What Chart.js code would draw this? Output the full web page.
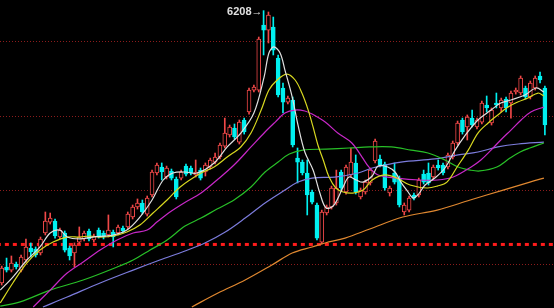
<!DOCTYPE html>
<html>
<head>
<meta charset="utf-8">
<script src="https://cdn.jsdelivr.net/npm/chart.js@4.4.0/dist/chart.umd.min.js"></script>
<style>
  html, body { margin: 0; padding: 0; background: #000; }
  canvas { display: block; }
</style>
</head>
<body>
<canvas id="kline" width="554" height="308"></canvas>
<script>
// daily candles
const openP = [4370, 4478, 4457, 4498, 4457, 4525, 4606, 4599, 4572, 4707,
  4781, 4788, 4680, 4707, 4606, 4572, 4646, 4667, 4721, 4660,
  4727, 4707, 4694, 4714, 4707, 4741, 4748, 4815, 4883, 4910,
  4835, 4964, 5112, 5153, 5085, 5126, 5072, 5078, 5159, 5146,
  5099, 5132, 5119, 5153, 5186, 5220, 5294, 5369, 5416, 5321,
  5470, 5524, 5672, 5672, 6111, 6077, 6098, 5888, 5686, 5591,
  5605, 5213, 5186, 5112, 4984, 4896, 4646, 4842, 4883, 4910,
  5119, 4984, 5099, 5180, 4950, 4984, 5045, 5193, 5207, 5173,
  4977, 5112, 5078, 4849, 4862, 4964, 4964, 5105, 5112, 5085,
  5166, 5166, 5153, 5220, 5315, 5470, 5423, 5483, 5423, 5456,
  5571, 5450, 5585, 5551, 5612, 5585, 5659, 5652, 5686, 5625,
  5686, 5767, 5686];
const highP = [4484, 4538, 4552, 4511, 4559, 4667, 4640, 4613, 4680, 4849,
  4842, 4802, 4741, 4721, 4619, 4640, 4748, 4721, 4734, 4700,
  4741, 4721, 4829, 4727, 4761, 4754, 4849, 4896, 4937, 4930,
  4957, 5132, 5180, 5180, 5159, 5139, 5085, 5132, 5173, 5159,
  5200, 5146, 5180, 5213, 5247, 5315, 5483, 5436, 5443, 5470,
  5483, 5686, 5706, 6030, 6208, 6199, 6165, 5909, 5720, 5632,
  5625, 5281, 5200, 5200, 4997, 4910, 4862, 4896, 5024, 5132,
  5132, 5166, 5281, 5234, 5011, 5065, 5146, 5342, 5234, 5186,
  5024, 5180, 5092, 4910, 4957, 4977, 5078, 5132, 5180, 5166,
  5200, 5180, 5247, 5328, 5463, 5483, 5504, 5537, 5483, 5598,
  5632, 5551, 5652, 5618, 5625, 5666, 5686, 5767, 5699, 5733,
  5767, 5794, 5699];
const lowP = [4356, 4444, 4444, 4464, 4444, 4511, 4545, 4545, 4559, 4694,
  4768, 4673, 4667, 4579, 4525, 4478, 4633, 4653, 4653, 4646,
  4673, 4667, 4680, 4613, 4694, 4707, 4734, 4802, 4869, 4835,
  4822, 4950, 5099, 5065, 5072, 5065, 4937, 5065, 5092, 5099,
  5085, 5065, 5092, 5139, 5173, 5207, 5281, 5355, 5342, 5308,
  5375, 5510, 5659, 5659, 5909, 5990, 5909, 5625, 5517, 5578,
  5288, 5045, 5099, 4829, 4903, 4660, 4633, 4829, 4869, 4896,
  4997, 4970, 5085, 4970, 4937, 4970, 5031, 5180, 5153, 4997,
  4957, 5038, 4883, 4829, 4849, 4930, 4950, 5038, 5031, 5072,
  5132, 5099, 5139, 5207, 5301, 5375, 5335, 5423, 5409, 5443,
  5524, 5436, 5551, 5524, 5524, 5483, 5645, 5639, 5612, 5612,
  5672, 5720, 5369];
const closeP = [4471, 4457, 4505, 4478, 4545, 4613, 4579, 4559, 4667, 4788,
  4808, 4687, 4727, 4592, 4552, 4626, 4680, 4707, 4667, 4687,
  4687, 4680, 4727, 4680, 4748, 4721, 4835, 4883, 4910, 4849,
  4943, 5119, 5166, 5119, 5146, 5078, 4950, 5119, 5105, 5112,
  5119, 5078, 5166, 5200, 5220, 5301, 5382, 5423, 5355, 5456,
  5389, 5672, 5693, 6017, 6077, 6179, 5942, 5639, 5591, 5618,
  5301, 5186, 5112, 4964, 4916, 4673, 4849, 4883, 5011, 5011,
  5011, 5153, 5186, 4984, 4997, 5051, 5132, 5328, 5166, 5011,
  5011, 5051, 4896, 4896, 4943, 4943, 5065, 5051, 5045, 5153,
  5146, 5112, 5234, 5315, 5450, 5389, 5490, 5436, 5470, 5585,
  5551, 5537, 5571, 5605, 5551, 5652, 5672, 5753, 5625, 5720,
  5753, 5740, 5436];

// moving average lines, sampled as [bar index, price]
const ma5 = [[-0.3, 4322], [2.3, 4410], [5.2, 4525], [7.9, 4613], [10, 4707], [12, 4727],
  [13.5, 4680], [16.1, 4667], [18.8, 4680], [23, 4694], [25.8, 4727], [28.5, 4815],
  [31, 4930], [33.3, 5065], [35.3, 5112], [37.8, 5119], [40.3, 5112], [43.8, 5180],
  [46.5, 5288], [49.3, 5382], [52, 5517], [54.1, 5760], [55.1, 5922], [56.1, 5963],
  [57.4, 5922], [58.4, 5807], [59.9, 5625], [61.1, 5436], [62.5, 5254], [64.2, 5132],
  [65.6, 4977], [66.9, 4876], [68.5, 4896], [70.4, 5018], [71.6, 5085], [73.1, 5065],
  [74.5, 5051], [76.4, 5092], [77.6, 5159], [79.6, 5153], [81.1, 5119], [82.3, 5051],
  [83.8, 4984], [84.8, 4943], [85.8, 4964], [87.3, 5031], [89.3, 5078], [91.4, 5146],
  [93.5, 5267], [95.3, 5355], [98.2, 5470], [100.9, 5537], [102.9, 5585], [105, 5605],
  [107.9, 5639], [110.2, 5686], [111.8, 5659]];
const ma10 = [[-0.3, 4235], [2.3, 4370], [5.2, 4505], [7.9, 4592], [10.6, 4646], [13.5, 4680],
  [16.1, 4680], [18.2, 4687], [20.3, 4680], [23, 4687], [25.8, 4714], [28.5, 4761],
  [31.2, 4842], [34.1, 4930], [36.8, 5018], [41.1, 5112], [43.8, 5153], [46.5, 5220],
  [49.3, 5288], [51.4, 5382], [53.5, 5537], [55.1, 5672], [56.8, 5740], [58.8, 5780],
  [60.5, 5740], [61.9, 5652], [63.2, 5537], [64.2, 5423], [65.2, 5301], [66.3, 5200],
  [67.5, 5085], [68.9, 5011], [70.4, 4984], [72.4, 4977], [74.5, 4997], [76.4, 5065],
  [79, 5099], [81.5, 5078], [84.2, 5031], [87.7, 5011], [89.8, 5024], [91.8, 5051],
  [93.9, 5153], [96.2, 5267], [98.2, 5382], [100.3, 5450], [102.3, 5504], [104.4, 5558],
  [106.4, 5591], [108.5, 5618], [110.6, 5652], [111.8, 5632]];
const ma20 = [[6.5, 4208], [10, 4322], [13.5, 4437], [16.8, 4511], [20.3, 4592], [23.8, 4660],
  [27.1, 4707], [30, 4727], [32, 4781], [34.7, 4849], [37.6, 4910], [41.1, 4977],
  [44.4, 5065], [47.9, 5166], [51.4, 5288], [54.3, 5389], [56.4, 5456], [58.4, 5517],
  [60.5, 5537], [62.5, 5531], [64, 5510], [66.7, 5456], [69.3, 5382], [72.2, 5315],
  [74.3, 5220], [75.7, 5153], [77.6, 5099], [81.5, 5078], [86.2, 5065], [89.8, 5065],
  [93.1, 5085], [96.8, 5153], [98.8, 5200], [100.9, 5267], [102.9, 5335], [105, 5402],
  [107.1, 5470], [109.1, 5524], [111.8, 5558]];
const ma30 = [[-0.3, 4214], [3.8, 4242], [10, 4322], [16.8, 4390], [23.8, 4478], [27.1, 4525],
  [30.6, 4592], [34.1, 4660], [37.8, 4754], [41.1, 4808], [44.4, 4869], [47.9, 4930],
  [51.4, 5018], [54.3, 5119], [57, 5186], [59.3, 5240], [62.1, 5267], [66.9, 5274],
  [71.6, 5281], [75.9, 5288], [80.3, 5288], [84.4, 5267], [87.9, 5247], [91.4, 5200],
  [94.1, 5153], [96.6, 5132], [98.6, 5126], [102.1, 5153], [104.8, 5213], [106.9, 5254],
  [108.9, 5281], [111.8, 5315]];
const ma60 = [[8.5, 4208], [13.5, 4275], [20.3, 4370], [27.1, 4457], [32.6, 4525], [37.8, 4586],
  [41.9, 4640], [46.1, 4714], [50.2, 4808], [54.3, 4910], [58.4, 4997], [61.1, 5051],
  [64, 5078], [68.7, 5085], [73.5, 5112], [76.4, 5146], [82.3, 5186], [89.3, 5207],
  [94.1, 5234], [98.2, 5254], [102.3, 5288], [106.5, 5308], [111.8, 5321]];
const ma120 = [[39.2, 4208], [44.6, 4302], [50.2, 4390], [55.7, 4491], [59.9, 4572], [64, 4613],
  [66.7, 4640], [70.8, 4673], [75.9, 4734], [82.7, 4815], [89.8, 4862], [96.6, 4930],
  [103.4, 4997], [108.9, 5051], [111.8, 5078]];

const gridLevels = [4500, 5000, 5500, 6000];
const supportLevel = 4630;

const UP = '#f04848';
const DOWN = '#00f0f0';

const idx = openP.map((_, i) => i);
const isUp = idx.map(i => closeP[i] >= openP[i]);
const peakIndex = highP.indexOf(Math.max(...highP));

const toPts = arr => arr.map(p => ({ x: p[0], y: p[1] }));
const maLine = (data, color) => ({
  type: 'line',
  data: toPts(data),
  borderColor: color,
  borderWidth: 1.2,
  pointRadius: 0,
  tension: 0.35,
  order: 0
});

const backdrop = {
  id: 'backdrop',
  beforeDraw(chart) {
    const { ctx, chartArea: a, scales: { y } } = chart;
    ctx.save();
    ctx.fillStyle = '#000';
    ctx.fillRect(0, 0, chart.width, chart.height);
    ctx.strokeStyle = '#8c1c1c';
    ctx.lineWidth = 1;
    ctx.setLineDash([1, 2]);
    gridLevels.forEach(v => {
      const py = Math.round(y.getPixelForValue(v)) + 0.5;
      ctx.beginPath();
      ctx.moveTo(a.left, py);
      ctx.lineTo(a.right, py);
      ctx.stroke();
    });
    ctx.restore();
  },
  afterDatasetsDraw(chart) {
    // label of the highest price with arrow
    const { ctx, scales: { x, y } } = chart;
    const px = x.getPixelForValue(peakIndex);
    const py = y.getPixelForValue(highP[peakIndex]);
    ctx.save();
    ctx.font = 'bold 11px "Liberation Sans", Arial, sans-serif';
    ctx.fillStyle = '#e0e0e0';
    ctx.textAlign = 'right';
    ctx.textBaseline = 'middle';
    ctx.fillText(highP[peakIndex] + '\u2192', px - 1, py + 1);
    ctx.restore();
  }
};

new Chart(document.getElementById('kline'), {
  type: 'bar',
  data: {
    datasets: [
      maLine(ma5, '#e0e0e0'),
      maLine(ma10, '#d8d820'),
      maLine(ma20, '#c828c8'),
      maLine(ma30, '#28c028'),
      maLine(ma60, '#7c7cdc'),
      maLine(ma120, '#e08830'),
      {
        type: 'bar',
        data: idx.map(i => ({ x: i, y: [openP[i], closeP[i]] })),
        backgroundColor: idx.map(i => isUp[i] ? '#000' : DOWN),
        borderColor: idx.map(i => isUp[i] ? UP : DOWN),
        borderWidth: 1,
        borderSkipped: false,
        barThickness: 4,
        grouped: false,
        order: 1
      },
      {
        type: 'bar',
        data: idx.map(i => ({ x: i, y: [lowP[i], highP[i]] })),
        backgroundColor: idx.map(i => isUp[i] ? UP : DOWN),
        borderWidth: 0,
        barThickness: 1,
        grouped: false,
        order: 2
      },
      {
        type: 'line',
        data: [{ x: -1, y: supportLevel }, { x: 115, y: supportLevel }],
        borderColor: '#ff1c1c',
        borderWidth: 3,
        borderDash: [4, 4],
        pointRadius: 0,
        order: 3
      }
    ]
  },
  options: {
    responsive: false,
    animation: false,
    events: [],
    layout: { padding: 0 },
    plugins: { legend: { display: false }, tooltip: { enabled: false } },
    scales: {
      x: { type: 'linear', display: false, offset: false, min: -0.35, max: 113.88 },
      y: { display: false, min: 4201, max: 6280 }
    }
  },
  plugins: [backdrop]
});
</script>
</body>
</html>
